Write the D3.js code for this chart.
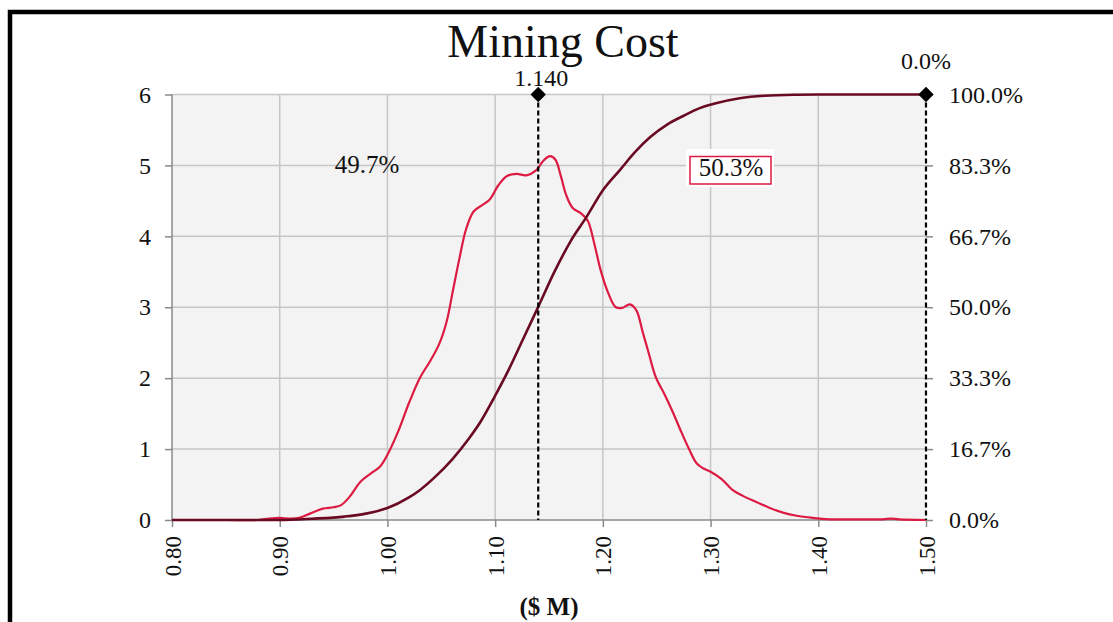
<!DOCTYPE html>
<html><head><meta charset="utf-8">
<script src="https://cdn.jsdelivr.net/npm/d3@7"></script>
<style>
html,body{margin:0;padding:0;background:#fff;}
svg{display:block;font-family:"Liberation Serif","DejaVu Serif",serif;}
</style></head>
<body><svg id="c" width="1113" height="622"></svg>
<script>
// ---- data ----
const title = "Mining Cost";
const xLabel = "($ M)";
const xTicks = [0.80, 0.90, 1.00, 1.10, 1.20, 1.30, 1.40, 1.50];
const yTicks = [0, 1, 2, 3, 4, 5, 6];
const yRightTicks = [0, 100/6, 200/6, 50, 400/6, 500/6, 100];
const densityX = [0.80,0.85,0.880,0.890,0.900,0.910,0.918,0.928,0.940,0.950,0.957,0.965,0.975,0.985,0.993,1.000,1.010,1.020,1.030,1.040,1.048,1.055,1.061,1.067,1.073,1.080,1.088,1.095,1.103,1.111,1.120,1.129,1.138,1.145,1.151,1.156,1.161,1.166,1.172,1.180,1.186,1.192,1.198,1.205,1.212,1.218,1.225,1.231,1.237,1.243,1.249,1.258,1.265,1.272,1.280,1.287,1.293,1.300,1.310,1.320,1.330,1.343,1.355,1.368,1.380,1.395,1.410,1.440,1.460,1.467,1.475,1.50];
const densityY = [0,0,0.00,0.02,0.03,0.02,0.03,0.09,0.16,0.18,0.21,0.33,0.54,0.66,0.75,0.92,1.25,1.65,2.00,2.25,2.48,2.80,3.25,3.70,4.10,4.35,4.44,4.52,4.72,4.85,4.88,4.86,4.93,5.07,5.13,5.08,4.85,4.58,4.40,4.32,4.22,3.90,3.52,3.20,3.00,2.99,3.04,2.96,2.65,2.33,2.02,1.75,1.52,1.27,1.00,0.80,0.73,0.68,0.58,0.43,0.34,0.25,0.17,0.10,0.06,0.03,0.01,0.01,0.01,0.02,0.01,0.00];
const cumX = [0.80,0.90,0.93,0.96,0.98,1.00,1.02,1.03,1.045,1.06,1.075,1.086,1.10,1.111,1.125,1.14,1.155,1.17,1.185,1.20,1.216,1.23,1.244,1.26,1.275,1.29,1.303,1.327,1.35,1.38,1.40,1.50];
const cumPct = [0,0,0.3,0.8,1.5,2.8,5.3,7.0,10.3,14.2,18.9,22.9,29.2,34.5,42.0,50.1,58.3,65.5,71.3,77.5,82.3,86.5,90.0,93.0,95.0,96.8,97.8,99.1,99.7,99.95,100,100];
const markerX = [1.140, 1.50];
const markerLabels = ["1.140", "0.0%"];
const leftPctLabel = "49.7%";
const rightPctLabel = "50.3%";

// ---- layout ----
const svg = d3.select("#c");
const L = 172, R = 926, T = 94.5, B = 520;
const x = d3.scaleLinear().domain([0.8, 1.5]).range([L, R]);
const y = d3.scaleLinear().domain([0, 6]).range([B, T]);
const yR = d3.scaleLinear().domain([0, 100]).range([B, T]);

// outer frame (left & top visible)
svg.append("rect").attr("x", 10).attr("y", 12).attr("width", 1200).attr("height", 700)
  .attr("fill", "none").attr("stroke", "#000").attr("stroke-width", 4.5);

// plot background
svg.append("rect").attr("x", L).attr("y", T).attr("width", R - L).attr("height", B - T).attr("fill", "#f3f3f3");

// gridlines
const grid = svg.append("g").attr("stroke", "#c6c6c6").attr("stroke-width", 1.5);
xTicks.slice(1, -1).forEach(t => grid.append("line").attr("x1", x(t)).attr("x2", x(t)).attr("y1", T).attr("y2", B));
yTicks.slice(1).forEach(t => grid.append("line").attr("x1", L).attr("x2", R).attr("y1", y(t)).attr("y2", y(t)));

// axes
const fs = 24;
const gL = svg.append("g").attr("transform", `translate(${L},0)`)
  .call(d3.axisLeft(y).tickValues(yTicks).tickFormat(d3.format("d")).tickSize(7).tickPadding(14));
const gR = svg.append("g").attr("transform", `translate(${R},0)`)
  .call(d3.axisRight(yR).tickValues(yRightTicks).tickFormat(d => d3.format(".1f")(d) + "%").tickSize(7).tickPadding(16));
const gB = svg.append("g").attr("transform", `translate(0,${B})`)
  .call(d3.axisBottom(x).tickValues(xTicks).tickFormat(d3.format(".2f")).tickSize(7));
[gL, gR, gB].forEach(g => {
  g.selectAll("path").attr("stroke", "#8a8a8a").attr("stroke-width", 1.5);
  g.selectAll("line").attr("stroke", "#8a8a8a").attr("stroke-width", 1.5);
  g.selectAll("text").attr("font-family", "Liberation Serif").attr("font-size", fs).attr("fill", "#111");
});
gR.select("path").remove();
gB.selectAll("text").attr("font-size", 23).attr("transform", "rotate(-90)").attr("text-anchor", "end")
  .attr("x", -16).attr("y", 0).attr("dy", "0.35em");
gL.select("path").attr("d", `M0,${T}V${B}`);
gB.select("path").attr("d", `M${L},0H${R}`);

// curves
const dLine = d3.line().x(i => x(densityX[i])).y(i => y(densityY[i])).curve(d3.curveCatmullRom.alpha(0.5));
svg.append("path").attr("d", dLine(d3.range(densityX.length))).attr("fill", "none")
  .attr("stroke", "#dc1a42").attr("stroke-width", 2.2);
const cLine = d3.line().x(i => x(cumX[i])).y(i => yR(cumPct[i])).curve(d3.curveMonotoneX);
svg.append("path").attr("d", cLine(d3.range(cumX.length))).attr("fill", "none")
  .attr("stroke", "#6a0a22").attr("stroke-width", 2.6);

// markers
markerX.forEach((m, i) => {
  svg.append("line").attr("x1", x(m)).attr("x2", x(m)).attr("y1", T).attr("y2", B)
    .attr("stroke", "#000").attr("stroke-width", 2.2).attr("stroke-dasharray", "5,3");
  svg.append("path").attr("d", d3.symbol(d3.symbolDiamond2, 150)()).attr("transform", `translate(${x(m)},${T})`)
    .attr("fill", "#000");
});
svg.append("text").attr("x", x(markerX[0]) + 3).attr("y", 86).attr("text-anchor", "middle")
  .attr("font-size", 24).attr("fill", "#111").text(markerLabels[0]);
svg.append("text").attr("x", x(markerX[1])).attr("y", 69).attr("text-anchor", "middle")
  .attr("font-size", 24).attr("fill", "#111").text(markerLabels[1]);

// percent labels
svg.append("text").attr("x", 367).attr("y", 173).attr("text-anchor", "middle")
  .attr("font-size", 25).attr("fill", "#111").text(leftPctLabel);
svg.append("rect").attr("x", 686).attr("y", 149).attr("width", 88).attr("height", 38).attr("fill", "#fff");
svg.append("rect").attr("x", 690).attr("y", 156.5).attr("width", 81).attr("height", 27.5)
  .attr("fill", "none").attr("stroke", "#dc1a42").attr("stroke-width", 1.5);
svg.append("text").attr("x", 731).attr("y", 176).attr("text-anchor", "middle")
  .attr("font-size", 25).attr("fill", "#111").text(rightPctLabel);

// title
svg.append("text").attr("x", 563).attr("y", 57).attr("text-anchor", "middle")
  .attr("font-size", 46).attr("fill", "#111").text(title);
// x label
svg.append("text").attr("x", 549).attr("y", 615).attr("text-anchor", "middle")
  .attr("font-size", 25).attr("font-weight", "bold").attr("fill", "#111").text(xLabel);
</script></body></html>
